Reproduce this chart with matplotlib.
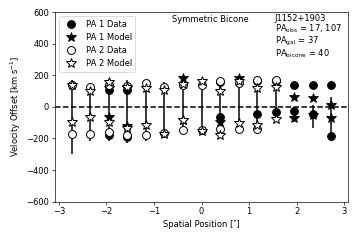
import numpy as np
import matplotlib
matplotlib.use('Agg')
import matplotlib.pyplot as plt

nan = np.nan

# spatial positions along the slit [arcsec]
positions = [-2.73, -2.34, -1.95, -1.56, -1.17, -0.78, -0.39, 0.0,
             0.39, 0.78, 1.17, 1.56, 1.95, 2.34, 2.73]

# PA 1 data: red / blue components [km/s]
pa1_red = [nan, nan, 105, 110, nan, nan, nan, nan, 160, nan, 165, 165, 138, 138, 138]
pa1_blue = [nan, nan, -180, -192, nan, nan, nan, nan, -66, nan, -42, -34, -29, -45, -184]
pa1_blue_err_lo = [nan, nan, 20, 20, nan, nan, nan, nan, 20, nan, 20, 50, 68, 91, 30]
pa1_blue_err_hi = [nan, nan, 20, 20, nan, nan, nan, nan, 20, nan, 20, 200, 29, 55, 245]

# PA 1 model
pa1_mod_red = [nan, nan, 118, 120, nan, nan, 183, nan, nan, 184, nan, nan, 66, 54, 15]
pa1_mod_blue = [nan, nan, -66, -120, nan, nan, -85, nan, -95, nan, nan, nan, -72, -52, -68]

# PA 2 data
pa2_red = [136, 125, 142, 132, 149, 127, 140, 141, 165, 150, 170, 168, nan, nan, nan]
pa2_blue = [-172, -172, -162, -178, -180, -168, -147, -146, -142, -142, -138, nan, nan, nan, nan]
pa2_blue_err_lo = [128, 42, 52, 52, 35, 32, 18, 34, 53, 23, 22, nan, nan, nan, nan]
pa2_blue_err_hi = [340, 325, 340, 348, 350, 328, 317, 321, 322, 317, 323, nan, nan, nan, nan]

# PA 2 model
pa2_mod_red = [136, 104, 157, 127, 117, 106, 148, 162, 102, 162, 117, 125, nan, nan, nan]
pa2_mod_blue = [-93, -66, -97, -135, -117, -170, -83, -155, -178, -103, -117, -74, nan, nan, nan]


def draw_errors(ax, vals, lo, hi):
    x = np.array(positions)
    y = np.array(vals, dtype=float)
    ok = ~np.isnan(y)
    ax.errorbar(x[ok], y[ok], yerr=[np.array(lo)[ok], np.array(hi)[ok]],
                fmt='none', ecolor='k', elinewidth=1.8, capsize=0, zorder=2)


fig, ax = plt.subplots(figsize=(6, 4), dpi=60)
fig.subplots_adjust(left=0.153, right=0.967, bottom=0.16, top=0.949)

ax.axhline(0, color='k', ls='--', lw=1.8, zorder=1)

circ = 9.5
star = 12

# PA 1
draw_errors(ax, pa1_blue, pa1_blue_err_lo, pa1_blue_err_hi)
ax.plot(positions, pa1_red, 'o', color='k', ms=circ, label='PA 1 Data')
ax.plot(positions, pa1_blue, 'o', color='k', ms=circ)
ax.plot(positions, pa1_mod_red, '*', color='k', ms=star, label='PA 1 Model')
ax.plot(positions, pa1_mod_blue, '*', color='k', ms=star)

# PA 2
draw_errors(ax, pa2_blue, pa2_blue_err_lo, pa2_blue_err_hi)
ax.plot(positions, pa2_red, 'o', mfc='w', mec='k', mew=1.2, ms=circ, label='PA 2 Data')
ax.plot(positions, pa2_blue, 'o', mfc='w', mec='k', mew=1.2, ms=circ)
ax.plot(positions, pa2_mod_red, '*', mfc='w', mec='k', mew=1.2, ms=star, label='PA 2 Model')
ax.plot(positions, pa2_mod_blue, '*', mfc='w', mec='k', mew=1.2, ms=star)

ax.set_xlim(-3.08, 3.08)
ax.set_ylim(-600, 600)
ax.set_yticks([-600, -400, -200, 0, 200, 400, 600])
ax.set_xlabel('Spatial Position [″]')
ax.set_ylabel('Velocity Offset [km s$^{-1}$]')

ax.legend(loc='upper left', numpoints=1)
ax.text(0.53, 0.985, 'Symmetric Bicone', transform=ax.transAxes, ha='center', va='top')
ax.text(0.75, 0.99,
        'J1152+1903\nPA$_{\\rm obs}$ = 17, 107\nPA$_{\\rm gal}$ = 37\nPA$_{\\rm bicone}$ = 40',
        transform=ax.transAxes, ha='left', va='top', linespacing=0.95)

fig.savefig('out.png', dpi=60)
